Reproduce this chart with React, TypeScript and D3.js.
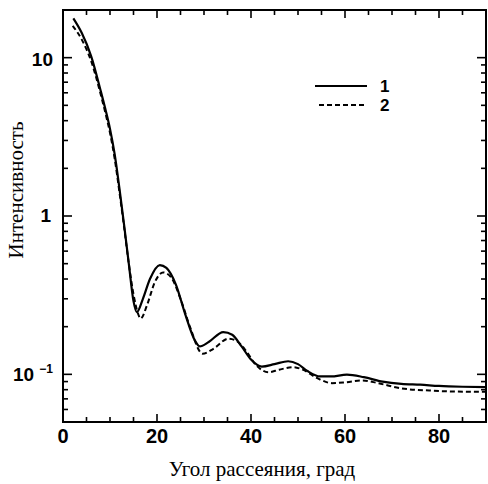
import React from 'react'
import * as d3 from 'd3'

// angle, deg / intensity for curve 1 (solid) and 2 (dashed)
const ANGLE_1 = [2.2, 4, 6, 8, 9, 10, 11, 12, 13, 14, 15, 15.7, 17, 18.5, 20.6, 22, 24, 26, 28, 29.1, 31, 34.1, 36, 38, 40, 42.3, 45, 47.9, 50, 52, 54.7, 57, 60.4, 64, 68, 72, 76, 80, 85, 90]
const VALUE_1 = [17.7, 14.3, 10.2, 6.2, 4.75, 3.55, 2.45, 1.5, 0.88, 0.5, 0.29, 0.247, 0.3, 0.4, 0.49, 0.47, 0.37, 0.24, 0.165, 0.15, 0.16, 0.185, 0.178, 0.15, 0.124, 0.112, 0.116, 0.121, 0.116, 0.105, 0.097, 0.097, 0.0995, 0.096, 0.09, 0.087, 0.086, 0.0845, 0.0835, 0.083]

const ANGLE_2 = [2.06, 4, 6, 8, 9, 10, 11, 12, 13, 14, 15, 16, 16.5, 18, 19.5, 21.3, 23, 25, 27, 29.7, 32, 35.2, 37, 39, 41, 43.7, 46, 49, 51, 54, 57.2, 60, 63.8, 67, 72, 78, 84, 90]
const VALUE_2 = [15.9, 13.0, 9.5, 5.9, 4.5, 3.35, 2.3, 1.42, 0.85, 0.5, 0.32, 0.24, 0.225, 0.28, 0.38, 0.44, 0.41, 0.3, 0.2, 0.135, 0.145, 0.168, 0.162, 0.14, 0.115, 0.103, 0.107, 0.111, 0.107, 0.095, 0.088, 0.089, 0.0915, 0.088, 0.0815, 0.079, 0.0778, 0.0775]

const X_LABELS = [0, 20, 40, 60, 80]
const Y_MAJOR = [10, 1, 0.1]
const LEGEND = ['1', '2']

const W = 488
const H = 484
const m = { top: 10, right: 2, bottom: 62, left: 63 }

const x = d3.scaleLinear().domain([0, 90]).range([m.left, W - m.right])
const y = d3.scaleLog().domain([0.05, 20]).range([H - m.bottom, m.top])

const line = d3.line<[number, number]>()
  .x(d => x(d[0]))
  .y(d => y(d[1]))
  .curve(d3.curveMonotoneX)

const path1 = line(ANGLE_1.map((a, i) => [a, VALUE_1[i]] as [number, number]))
const path2 = line(ANGLE_2.map((a, i) => [a, VALUE_2[i]] as [number, number]))

const xTicks = d3.range(5, 90, 5)
const yTicks: number[] = []
;[0.01, 0.1, 1, 10].forEach(d => {
  for (let k = 1; k < 10; k++) {
    const v = d * k
    if (v >= 0.05 && v <= 20) yTicks.push(v)
  }
})

const bold = '"Liberation Sans", Arial, sans-serif'
const serif = '"Liberation Serif", "Times New Roman", serif'

export default function App() {
  const x0 = m.left, x1 = W - m.right, y0 = m.top, y1 = H - m.bottom
  return (
    <svg width={W} height={H} style={{ position: 'absolute', left: 0, top: 0 }}>
      <rect x={0} y={0} width={W} height={H} fill="#fff" />
      <g stroke="#000" strokeWidth={1.6}>
        {xTicks.map(t => {
          const len = t % 20 === 0 ? 8 : 5
          return (
            <g key={'x' + t}>
              <line x1={x(t)} x2={x(t)} y1={y1} y2={y1 - len} />
              <line x1={x(t)} x2={x(t)} y1={y0} y2={y0 + len} />
            </g>
          )
        })}
        {yTicks.map(t => {
          const len = Y_MAJOR.some(v => Math.abs(v - t) < 1e-9) ? 9 : 5
          return (
            <g key={'y' + t}>
              <line x1={x0} x2={x0 + len} y1={y(t)} y2={y(t)} />
              <line x1={x1} x2={x1 - len} y1={y(t)} y2={y(t)} />
            </g>
          )
        })}
      </g>
      <rect x={x0} y={y0} width={x1 - x0} height={y1 - y0} fill="none" stroke="#000" strokeWidth={2} />

      <path d={path1 ?? ''} fill="none" stroke="#000" strokeWidth={2.2} />
      <path d={path2 ?? ''} fill="none" stroke="#000" strokeWidth={2} strokeDasharray="5,3" />

      <g fontFamily={bold} fontWeight="bold" fill="#000">
        {X_LABELS.map(t => (
          <text key={t} x={x(t)} y={y1 + 21} textAnchor="middle" fontSize={20}>{t}</text>
        ))}
        <text x={53} y={y(10) + 8} textAnchor="end" fontSize={19}>10</text>
        <text x={51} y={y(1) + 6} textAnchor="end" fontSize={19}>1</text>
        <text x={53} y={y(0.1) + 7} textAnchor="end" fontSize={19}>
          10 <tspan fontSize={12} dy={-8}>−1</tspan>
        </text>
      </g>

      <text x={262} y={476} textAnchor="middle" fontFamily={serif} fontSize={21}>Угол рассеяния, град</text>
      <text transform={`translate(23,${190}) rotate(-90)`} textAnchor="middle" fontFamily={serif} fontSize={21}>Интенсивность</text>

      <g>
        <line x1={315} x2={367} y1={86} y2={86} stroke="#000" strokeWidth={2.2} />
        <line x1={319} x2={367} y1={105} y2={105} stroke="#000" strokeWidth={2} strokeDasharray="5,3" />
        <g fontFamily={bold} fontWeight="bold" fontSize={17}>
          <text x={380} y={92}>{LEGEND[0]}</text>
          <text x={380} y={111}>{LEGEND[1]}</text>
        </g>
      </g>
    </svg>
  )
}
